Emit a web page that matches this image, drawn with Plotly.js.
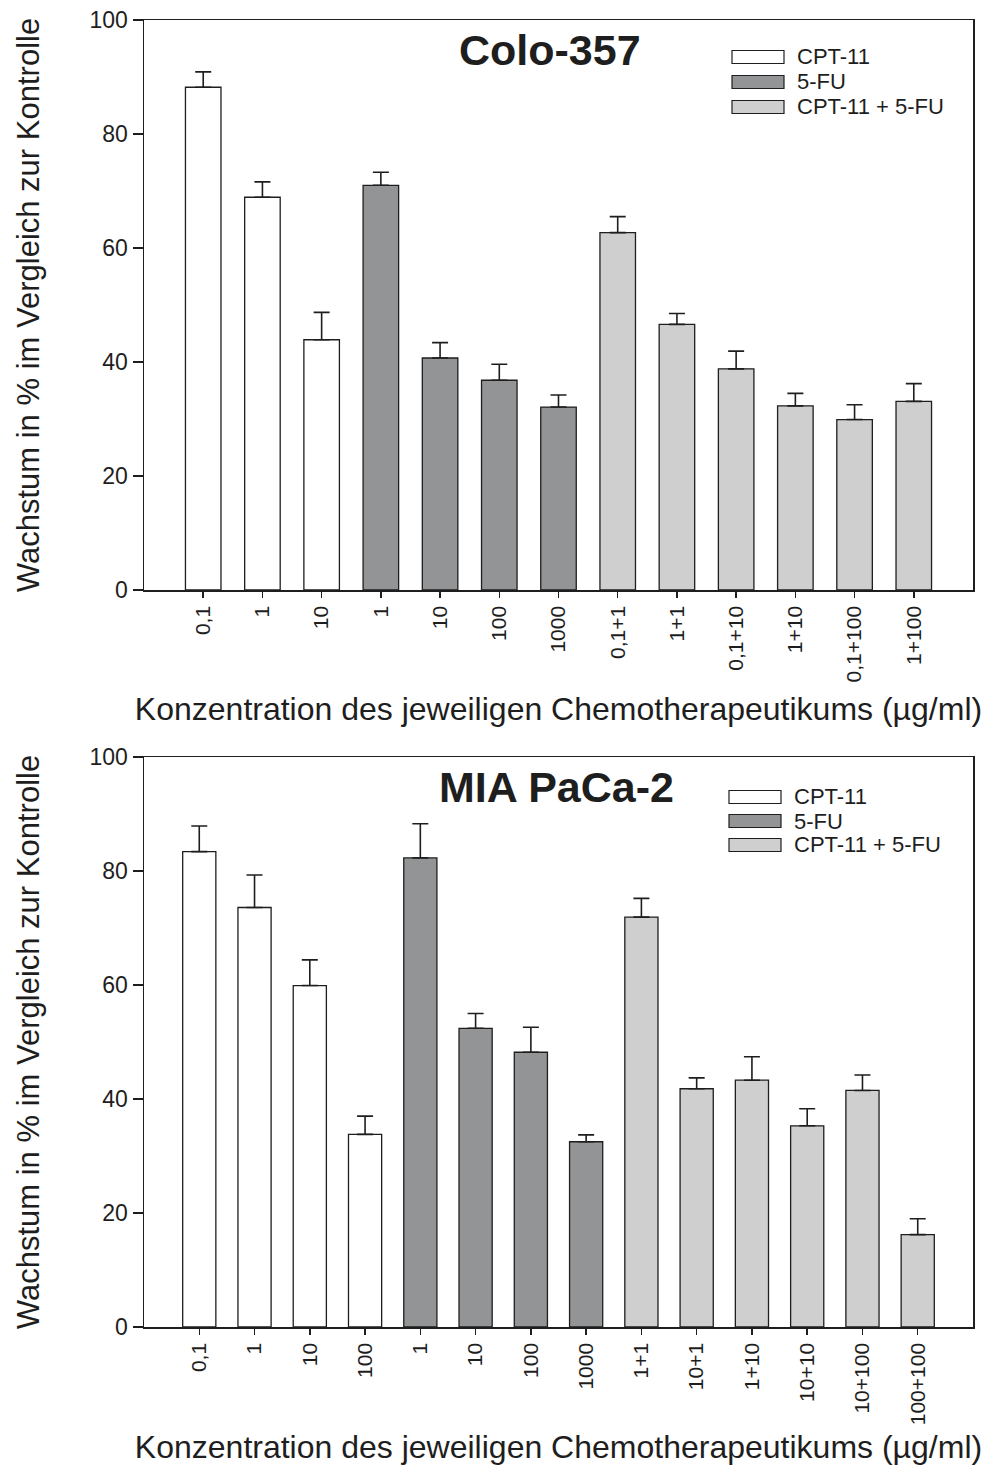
<!DOCTYPE html>
<html>
<head>
<meta charset="utf-8">
<script src="https://cdn.plot.ly/plotly-3.0.1.min.js"></script>
<style>html,body{margin:0;padding:0;background:#fff;}#chart{width:988px;height:1468px;}</style>
</head>
<body>
<div id="chart"></div>
<script>
// ---------- DATA ----------
const seriesNames = ['CPT-11', '5-FU', 'CPT-11 + 5-FU'];

// Colo-357
const coloLabels = ['0,1', '1', '10', '1', '10', '100', '1000', '0,1+1', '1+1', '0,1+10', '1+10', '0,1+100', '1+100'];
const coloCPT = [88.2, 68.9, 43.9];
const coloCPTErr = [2.7, 2.7, 4.8];
const colo5FU = [71.0, 40.7, 36.8, 32.1];
const colo5FUErr = [2.3, 2.7, 2.8, 2.1];
const coloComb = [62.7, 46.6, 38.8, 32.3, 29.9, 33.1];
const coloCombErr = [2.8, 1.9, 3.1, 2.2, 2.6, 3.1];

// MIA PaCa-2
const miaLabels = ['0,1', '1', '10', '100', '1', '10', '100', '1000', '1+1', '10+1', '1+10', '10+10', '10+100', '100+100'];
const miaCPT = [83.4, 73.6, 59.9, 33.8];
const miaCPTErr = [4.5, 5.7, 4.5, 3.2];
const mia5FU = [82.3, 52.4, 48.2, 32.5];
const mia5FUErr = [6.0, 2.6, 4.4, 1.2];
const miaComb = [71.9, 41.8, 43.3, 35.3, 41.5, 16.2];
const miaCombErr = [3.3, 1.9, 4.1, 3.0, 2.7, 2.8];

const yTickVals = [0, 20, 40, 60, 80, 100];

// ---------- STYLE ----------
const FONT = 'Liberation Sans, Arial, Helvetica, sans-serif';
const INK = '#1e1e1e';
const fills = ['#ffffff', '#939495', '#cfcfcf'];

const W = 988, H = 1468;
const M = {l: 144, r: 15, t: 20, b: 141};
const PW = W - M.l - M.r, PH = H - M.t - M.b;
const px2x = v => (v - M.l) / PW;
const px2y = v => (H - M.b - v) / PH;

function buildTraces(groups, xa, ya) {
  const traces = [];
  let start = 0;
  groups.forEach((g, i) => {
    const xs = g.vals.map((_, k) => start + k);
    start += g.vals.length;
    traces.push({
      type: 'bar', x: xs, y: g.vals, width: 0.6, name: seriesNames[i],
      xaxis: xa, yaxis: ya, showlegend: false, hoverinfo: 'y',
      marker: {color: fills[i], line: {color: INK, width: 1.3}},
      error_y: {type: 'data', symmetric: false, array: g.err, arrayminus: g.err.map(() => 0),
                color: INK, thickness: 1.6, width: 8}
    });
  });
  return traces;
}

const data = [].concat(
  buildTraces([{vals: coloCPT, err: coloCPTErr}, {vals: colo5FU, err: colo5FUErr}, {vals: coloComb, err: coloCombErr}], 'x', 'y'),
  buildTraces([{vals: miaCPT, err: miaCPTErr}, {vals: mia5FU, err: mia5FUErr}, {vals: miaComb, err: miaCombErr}], 'x2', 'y2')
);

const xTitle = 'Konzentration des jeweiligen Chemotherapeutikums (µg/ml)';
const yTitle = 'Wachstum in % im Vergleich zur Kontrolle';

function xAxis(labels, anchor, standoff) {
  return {
    anchor: anchor, domain: [0, 1], range: [-1, labels.length],
    tickvals: labels.map((_, i) => i), ticktext: labels, tickangle: -90,
    ticks: 'outside', ticklen: 6, tickwidth: 1.5, tickcolor: INK,
    showline: true, linecolor: INK, linewidth: 1.5, mirror: true,
    showgrid: false, zeroline: false, automargin: false,
    tickfont: {family: FONT, size: 21, color: INK},
    title: {text: xTitle, font: {family: FONT, size: 32, color: INK}, standoff: standoff}
  };
}
function yAxis(domain, anchor) {
  return {
    anchor: anchor, domain: domain, range: [0, 100],
    tickvals: yTickVals, ticks: 'outside', ticklen: 10, tickwidth: 1.5, tickcolor: INK,
    showline: true, linecolor: INK, linewidth: 1.5, mirror: true,
    showgrid: false, zeroline: false, automargin: false,
    tickfont: {family: FONT, size: 23, color: INK},
    title: {text: yTitle, font: {family: FONT, size: 31, color: INK}, standoff: 40}
  };
}

// legend drawn as shapes + text (wide rectangles as in the original)
const shapes = [], annotations = [];
function legend(x0, x1, rows) {
  rows.forEach((cy, i) => {
    shapes.push({type: 'rect', xref: 'paper', yref: 'paper',
      x0: px2x(x0), x1: px2x(x1), y0: px2y(cy + 6.5), y1: px2y(cy - 6.5),
      fillcolor: fills[i], line: {color: INK, width: 1.2}});
    annotations.push({xref: 'paper', yref: 'paper', x: px2x(x1 + 11), y: px2y(cy),
      xanchor: 'left', yanchor: 'middle', showarrow: false, text: seriesNames[i],
      font: {family: FONT, size: 22, color: INK}});
  });
}
legend(732, 784, [57, 82, 107]);
legend(729, 781, [797, 821, 845]);

annotations.push({xref: 'paper', yref: 'paper', x: px2x(550), y: px2y(50), xanchor: 'center', yanchor: 'middle',
  showarrow: false, text: '<b>Colo-357</b>', font: {family: FONT, size: 43, color: INK}});
annotations.push({xref: 'paper', yref: 'paper', x: px2x(556), y: px2y(787), xanchor: 'center', yanchor: 'middle',
  showarrow: false, text: '<b>MIA PaCa-2</b>', font: {family: FONT, size: 43, color: INK}});

const layout = {
  width: W, height: H, margin: M,
  paper_bgcolor: '#fff', plot_bgcolor: '#fff',
  font: {family: FONT, color: INK},
  showlegend: false, bargap: 0,
  xaxis: xAxis(coloLabels, 'y', 16),
  yaxis: yAxis([px2y(590), 1], 'x'),
  xaxis2: xAxis(miaLabels, 'y2', 11),
  yaxis2: yAxis([0, px2y(757)], 'x2'),
  shapes: shapes, annotations: annotations
};

Plotly.newPlot('chart', data, layout, {displayModeBar: false, staticPlot: true});
</script>
</body>
</html>
